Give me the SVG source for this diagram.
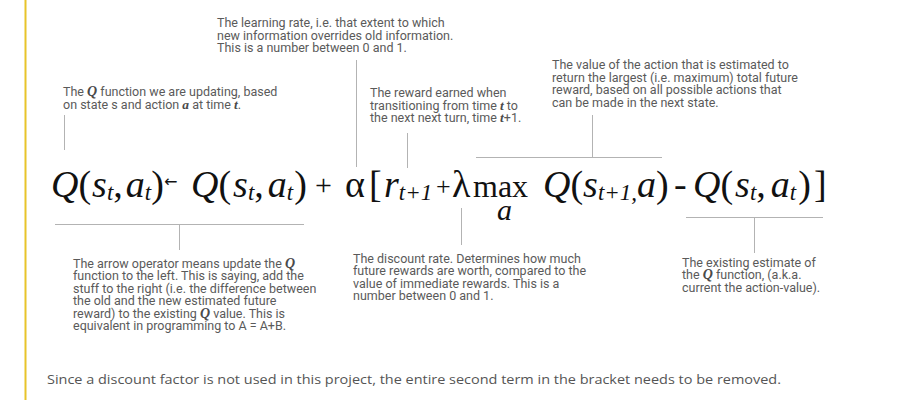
<svg xmlns="http://www.w3.org/2000/svg" width="906" height="400" viewBox="0 0 906 400">
<style>
.lbl{font-family:Roboto,"Liberation Sans",sans-serif;font-size:12.5px;fill:#5a5a5a}
.m{font-family:"Liberation Serif",serif;font-style:italic;font-weight:bold;font-size:13.5px;fill:#4a4a4a}
.q{font-size:14px}
.f{font-family:"Liberation Serif",serif;font-size:38px;fill:#111}
.i{font-style:italic}
.sub{font-size:23px;font-style:italic}
.op{font-size:30px}
.con{stroke:#b3b3b3;stroke-width:1;fill:none}
.note{font-family:"Open Sans","Liberation Sans",sans-serif;font-size:13.5px;fill:#555}
</style>
<rect width="906" height="400" fill="#fff"/>
<line x1="25.5" y1="0" x2="25.5" y2="400" stroke="#e8c42a" stroke-width="2"/>

<g id="connectors">
<line class="con" x1="64.5" y1="115" x2="64.5" y2="150"/>
<line class="con" x1="356.5" y1="60" x2="356.5" y2="167"/>
<line class="con" x1="407.5" y1="133" x2="407.5" y2="168"/>
<line class="con" x1="592.5" y1="115" x2="592.5" y2="157"/>
<line class="con" x1="476" y1="157.5" x2="662" y2="157.5"/>
<line class="con" x1="55" y1="224.5" x2="304" y2="224.5"/>
<line class="con" x1="179.5" y1="224" x2="179.5" y2="250"/>
<line class="con" x1="461.5" y1="208" x2="461.5" y2="245"/>
<line class="con" x1="686" y1="217.5" x2="823" y2="217.5"/>
<line class="con" x1="754.5" y1="217" x2="754.5" y2="253"/>
</g>

<g id="formula">
<text class="f" x="51" y="197"><tspan class="i">Q</tspan>(<tspan class="i" dx="1">s</tspan><tspan class="sub" dy="3">t</tspan><tspan dy="-3">,</tspan><tspan class="i" dx="3">a</tspan><tspan class="sub" dy="3">t</tspan><tspan dy="-3">)</tspan></text>
<text x="164" y="187" style="font-family:'DejaVu Sans',sans-serif;font-size:16px;fill:#111">←</text>
<text class="f" x="191" y="197"><tspan class="i">Q</tspan>(<tspan class="i" dx="2">s</tspan><tspan class="sub" dy="3">t</tspan><tspan dy="-3">,</tspan><tspan class="i" dx="4">a</tspan><tspan class="sub" dy="3">t</tspan><tspan dy="-3" dx="1">)</tspan></text>
<text class="f op" x="315" y="195">+</text>
<text class="f" x="345" y="197">α</text>
<text class="f" x="369" y="197">[</text>
<text class="f" x="384" y="197"><tspan class="i">r</tspan><tspan class="sub" dy="3">t+1</tspan></text>
<text class="f" x="436" y="195" style="font-size:26px">+</text>
<text class="f" x="452" y="197">λ</text>
<text class="f" x="473" y="197" style="font-size:32px">max</text>
<text class="f i" x="497" y="220" style="font-size:30px">a</text>
<text class="f" x="543" y="197"><tspan class="i">Q</tspan>(<tspan class="i">s</tspan><tspan class="sub" dy="3">t+1,</tspan></text>
<text class="f" x="637" y="197"><tspan class="i">a</tspan>)</text>
<text class="f" x="674" y="197">-</text>
<text class="f" x="693" y="197"><tspan class="i">Q</tspan>(<tspan class="i" dx="2">s</tspan><tspan class="sub" dy="3">t</tspan><tspan dy="-3">,</tspan><tspan class="i" dx="5">a</tspan><tspan class="sub" dy="3">t</tspan><tspan dy="-3" dx="2">)</tspan></text>
<text class="f" x="814" y="197">]</text>
</g>

<g id="n-learning-rate">
<text class="lbl" x="217" y="27">The learning rate, i.e. that extent to which</text>
<text class="lbl" x="217" y="39.5">new information overrides old information.</text>
<text class="lbl" x="217" y="52">This is a number between 0 and 1.</text>
</g>

<g id="n-q-function">
<text class="lbl" x="63" y="96">The <tspan class="m q">Q</tspan> function we are updating, based</text>
<text class="lbl" x="63" y="108.5">on state s and action <tspan class="m">a</tspan> at time <tspan class="m">t</tspan>.</text>
</g>

<g id="n-reward">
<text class="lbl" x="370" y="97">The reward earned when</text>
<text class="lbl" x="370" y="109.5">transitioning from time <tspan class="m">t</tspan> to</text>
<text class="lbl" x="370" y="122">the next next turn, time <tspan class="m">t</tspan>+1.</text>
</g>

<g id="n-max-value">
<text class="lbl" x="552" y="69">The value of the action that is estimated to</text>
<text class="lbl" x="552" y="81.5">return the largest (i.e. maximum) total future</text>
<text class="lbl" x="552" y="94">reward, based on all possible actions that</text>
<text class="lbl" x="552" y="106.5">can be made in the next state.</text>
</g>

<g id="n-arrow-operator">
<text class="lbl" x="73" y="267.5">The arrow operator means update the <tspan class="m q">Q</tspan></text>
<text class="lbl" x="73" y="280">function to the left. This is saying, add the</text>
<text class="lbl" x="73" y="292.5">stuff to the right (i.e. the difference between</text>
<text class="lbl" x="73" y="305">the old and the new estimated future</text>
<text class="lbl" x="73" y="317.5">reward) to the existing <tspan class="m q">Q</tspan> value. This is</text>
<text class="lbl" x="73" y="330">equivalent in programming to A = A+B.</text>
</g>

<g id="n-discount">
<text class="lbl" x="353" y="262.5">The discount rate. Determines how much</text>
<text class="lbl" x="353" y="275">future rewards are worth, compared to the</text>
<text class="lbl" x="353" y="287.5">value of immediate rewards. This is a</text>
<text class="lbl" x="353" y="300">number between 0 and 1.</text>
</g>

<g id="n-existing">
<text class="lbl" x="682" y="266.5">The existing estimate of</text>
<text class="lbl" x="682" y="279">the <tspan class="m q">Q</tspan> function, (a.k.a.</text>
<text class="lbl" x="682" y="291.5">current the action-value).</text>
</g>

<text class="note" x="47" y="384" textLength="734" lengthAdjust="spacingAndGlyphs">Since a discount factor is not used in this project, the entire second term in the bracket needs to be removed.</text>
</svg>
